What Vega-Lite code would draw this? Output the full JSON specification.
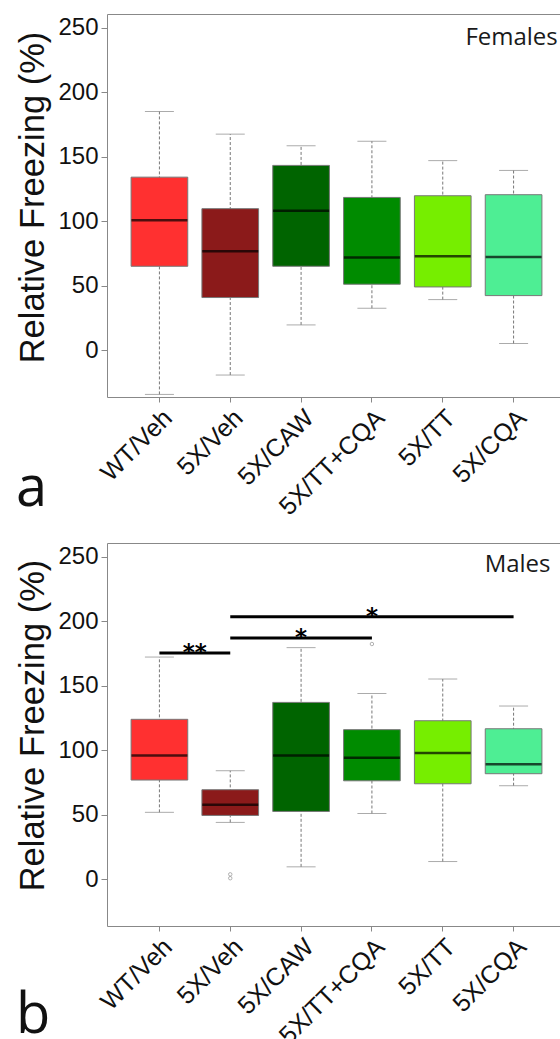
{
  "$schema": "https://vega.github.io/schema/vega-lite/v6.json",
  "background": "white",
  "padding": {"left": 15, "top": 13, "right": 0, "bottom": 0},
  "spacing": 22,
  "config": {
    "font": "Liberation Sans",
    "view": {"stroke": "#888888", "strokeWidth": 1},
    "title": {"font": "Open Sans", "fontSize": 56, "fontWeight": "normal", "color": "#111111"}
  },
  "datasets": {
    "females": [
      {"group": "WT/Veh", "lo": -34, "q1": 65.2, "med": 100.8, "q3": 134.2, "hi": 185},
      {"group": "5X/Veh", "lo": -19, "q1": 41, "med": 76.8, "q3": 109.8, "hi": 167.5},
      {"group": "5X/CAW", "lo": 19.8, "q1": 65.2, "med": 108.2, "q3": 143.3, "hi": 158.5},
      {"group": "5X/TT+CQA", "lo": 32.7, "q1": 51.3, "med": 71.9, "q3": 118.5, "hi": 162},
      {"group": "5X/TT", "lo": 39.4, "q1": 49.2, "med": 72.9, "q3": 119.8, "hi": 147},
      {"group": "5X/CQA", "lo": 5.4, "q1": 42.5, "med": 72.4, "q3": 120.6, "hi": 139.4}
    ],
    "males": [
      {"group": "WT/Veh", "lo": 52, "q1": 77, "med": 96, "q3": 124, "hi": 172.2},
      {"group": "5X/Veh", "lo": 44.2, "q1": 49.6, "med": 57.8, "q3": 69.5, "hi": 84.2},
      {"group": "5X/CAW", "lo": 9.8, "q1": 52.7, "med": 96, "q3": 137.1, "hi": 179.5},
      {"group": "5X/TT+CQA", "lo": 51.1, "q1": 76.4, "med": 94.2, "q3": 116, "hi": 144},
      {"group": "5X/TT", "lo": 13.9, "q1": 74.1, "med": 97.9, "q3": 122.9, "hi": 155.2},
      {"group": "5X/CQA", "lo": 72.6, "q1": 81.9, "med": 89.3, "q3": 116.7, "hi": 134.3}
    ],
    "maleOutliers": [
      {"group": "5X/Veh", "value": 4},
      {"group": "5X/Veh", "value": 1},
      {"group": "5X/TT+CQA", "value": 182.3}
    ],
    "sig": [
      {"from": "WT/Veh", "to": "5X/Veh", "y": 175.3, "label": "**", "at": "WT/Veh", "pos": "edge"},
      {"from": "5X/Veh", "to": "5X/TT+CQA", "y": 187, "label": "*", "at": "5X/CAW", "pos": "center"},
      {"from": "5X/Veh", "to": "5X/CQA", "y": 203.5, "label": "*", "at": "5X/TT+CQA", "pos": "center"}
    ]
  },
  "vconcat": [
    {
      "width": 459,
      "height": 383,
      "title": {"text": "a", "orient": "bottom", "anchor": "start", "frame": "bounds", "baseline": "alphabetic", "offset": 0, "dy": -13},
      "layer": [
        {
          "data": {"name": "females"},
          "mark": {"type": "rule", "color": "#777777", "strokeDash": [3, 2], "strokeWidth": 1},
          "encoding": {
            "x": {"field": "group", "type": "nominal", "sort": null, "scale": {"domain": ["WT/Veh", "5X/Veh", "5X/CAW", "5X/TT+CQA", "5X/TT", "5X/CQA"], "paddingInner": 0, "paddingOuter": 0.24},
              "axis": {"title": null, "domain": false, "grid": false, "tickColor": "#888888", "tickSize": 5, "labelAngle": -45, "labelFontSize": 25, "labelFont": "Liberation Sans", "labelColor": "#111111", "labelPadding": 3}},
            "y": {"field": "lo", "type": "quantitative", "scale": {"domain": [-36, 260.5], "nice": false, "zero": false},
              "axis": {"values": [0, 50, 100, 150, 200, 250], "title": "Relative Freezing (%)", "domain": false, "grid": false, "tickColor": "#888888", "tickSize": 6, "labelFontSize": 24, "labelFont": "Liberation Sans", "labelColor": "#111111", "labelPadding": 3, "titleFont": "Liberation Sans", "titleFontSize": 34.5, "titleFontWeight": "normal", "titleColor": "#111111", "titlePadding": 7, "titleY": 183}},
            "y2": {"field": "hi"}
          }
        },
        {
          "data": {"name": "females"},
          "mark": {"type": "tick", "color": "#888888", "size": 29, "thickness": 1},
          "encoding": {
            "x": {"field": "group", "type": "nominal", "sort": null},
            "y": {"field": "lo", "type": "quantitative"}
          }
        },
        {
          "data": {"name": "females"},
          "mark": {"type": "tick", "color": "#888888", "size": 29, "thickness": 1},
          "encoding": {
            "x": {"field": "group", "type": "nominal", "sort": null},
            "y": {"field": "hi", "type": "quantitative"}
          }
        },
        {
          "data": {"name": "females"},
          "mark": {"type": "bar", "width": {"band": 0.8}, "stroke": "#777777", "strokeWidth": 1},
          "encoding": {
            "x": {"field": "group", "type": "nominal", "sort": null},
            "y": {"field": "q1", "type": "quantitative"},
            "y2": {"field": "q3"},
            "color": {"field": "group", "type": "nominal", "legend": null, "scale": {"domain": ["WT/Veh", "5X/Veh", "5X/CAW", "5X/TT+CQA", "5X/TT", "5X/CQA"], "range": ["#FF3030", "#8B1A1A", "#006400", "#008B00", "#76EE00", "#4EEE94"]}}
          }
        },
        {
          "data": {"name": "females"},
          "mark": {"type": "tick", "color": "#000000", "size": 56, "thickness": 2.5},
          "encoding": {
            "x": {"field": "group", "type": "nominal", "sort": null},
            "y": {"field": "med", "type": "quantitative"}
          }
        },
        {
          "data": {"values": [{"label": "Females"}]},
          "mark": {"type": "text", "font": "Open Sans", "fontSize": 24, "color": "#1a1a1a", "align": "center", "baseline": "alphabetic", "dx": -2},
          "encoding": {
            "x": {"datum": "5X/CQA", "type": "nominal"},
            "y": {"datum": 236.6, "type": "quantitative"},
            "text": {"field": "label"}
          }
        }
      ]
    },
    {
      "width": 459,
      "height": 383,
      "title": {"text": "b", "orient": "bottom", "anchor": "start", "frame": "bounds", "baseline": "alphabetic", "offset": 0, "dy": -15},
      "layer": [
        {
          "data": {"name": "males"},
          "mark": {"type": "rule", "color": "#777777", "strokeDash": [3, 2], "strokeWidth": 1},
          "encoding": {
            "x": {"field": "group", "type": "nominal", "sort": null, "scale": {"domain": ["WT/Veh", "5X/Veh", "5X/CAW", "5X/TT+CQA", "5X/TT", "5X/CQA"], "paddingInner": 0, "paddingOuter": 0.24},
              "axis": {"title": null, "domain": false, "grid": false, "tickColor": "#888888", "tickSize": 5, "labelAngle": -45, "labelFontSize": 25, "labelFont": "Liberation Sans", "labelColor": "#111111", "labelPadding": 3}},
            "y": {"field": "lo", "type": "quantitative", "scale": {"domain": [-36, 260.5], "nice": false, "zero": false},
              "axis": {"values": [0, 50, 100, 150, 200, 250], "title": "Relative Freezing (%)", "domain": false, "grid": false, "tickColor": "#888888", "tickSize": 6, "labelFontSize": 24, "labelFont": "Liberation Sans", "labelColor": "#111111", "labelPadding": 3, "titleFont": "Liberation Sans", "titleFontSize": 34.5, "titleFontWeight": "normal", "titleColor": "#111111", "titlePadding": 7, "titleY": 182}},
            "y2": {"field": "hi"}
          }
        },
        {
          "data": {"name": "males"},
          "mark": {"type": "tick", "color": "#888888", "size": 29, "thickness": 1},
          "encoding": {
            "x": {"field": "group", "type": "nominal", "sort": null},
            "y": {"field": "lo", "type": "quantitative"}
          }
        },
        {
          "data": {"name": "males"},
          "mark": {"type": "tick", "color": "#888888", "size": 29, "thickness": 1},
          "encoding": {
            "x": {"field": "group", "type": "nominal", "sort": null},
            "y": {"field": "hi", "type": "quantitative"}
          }
        },
        {
          "data": {"name": "males"},
          "mark": {"type": "bar", "width": {"band": 0.8}, "stroke": "#777777", "strokeWidth": 1},
          "encoding": {
            "x": {"field": "group", "type": "nominal", "sort": null},
            "y": {"field": "q1", "type": "quantitative"},
            "y2": {"field": "q3"},
            "color": {"field": "group", "type": "nominal", "legend": null, "scale": {"domain": ["WT/Veh", "5X/Veh", "5X/CAW", "5X/TT+CQA", "5X/TT", "5X/CQA"], "range": ["#FF3030", "#8B1A1A", "#006400", "#008B00", "#76EE00", "#4EEE94"]}}
          }
        },
        {
          "data": {"name": "males"},
          "mark": {"type": "tick", "color": "#000000", "size": 56, "thickness": 2.5},
          "encoding": {
            "x": {"field": "group", "type": "nominal", "sort": null},
            "y": {"field": "med", "type": "quantitative"}
          }
        },
        {
          "data": {"name": "maleOutliers"},
          "mark": {"type": "point", "shape": "circle", "filled": false, "size": 12, "color": "#777777", "strokeWidth": 0.8},
          "encoding": {
            "x": {"field": "group", "type": "nominal", "sort": null},
            "y": {"field": "value", "type": "quantitative"}
          }
        },
        {
          "data": {"name": "sig"},
          "mark": {"type": "rule", "color": "#000000", "strokeWidth": 3},
          "encoding": {
            "x": {"field": "from", "type": "nominal", "sort": null},
            "x2": {"field": "to"},
            "y": {"field": "y", "type": "quantitative"}
          }
        },
        {
          "data": {"name": "sig"},
          "transform": [{"filter": "datum.pos === 'center'"}],
          "mark": {"type": "text", "font": "DejaVu Sans", "fontWeight": "bold", "fontSize": 23, "color": "#000000", "align": "center", "baseline": "alphabetic", "dy": 7},
          "encoding": {
            "x": {"field": "at", "type": "nominal", "sort": null},
            "y": {"field": "y", "type": "quantitative"},
            "text": {"field": "label"}
          }
        },
        {
          "data": {"name": "sig"},
          "transform": [{"filter": "datum.pos === 'edge'"}],
          "mark": {"type": "text", "font": "DejaVu Sans", "fontWeight": "bold", "fontSize": 23, "color": "#000000", "align": "center", "baseline": "alphabetic", "dy": 7},
          "encoding": {
            "x": {"field": "at", "type": "nominal", "sort": null, "bandPosition": 1},
            "y": {"field": "y", "type": "quantitative"},
            "text": {"field": "label"}
          }
        },
        {
          "data": {"values": [{"label": "Males"}]},
          "mark": {"type": "text", "font": "Open Sans", "fontSize": 24, "color": "#1a1a1a", "align": "center", "baseline": "alphabetic", "dx": 4},
          "encoding": {
            "x": {"datum": "5X/CQA", "type": "nominal"},
            "y": {"datum": 238.3, "type": "quantitative"},
            "text": {"field": "label"}
          }
        }
      ]
    }
  ]
}
